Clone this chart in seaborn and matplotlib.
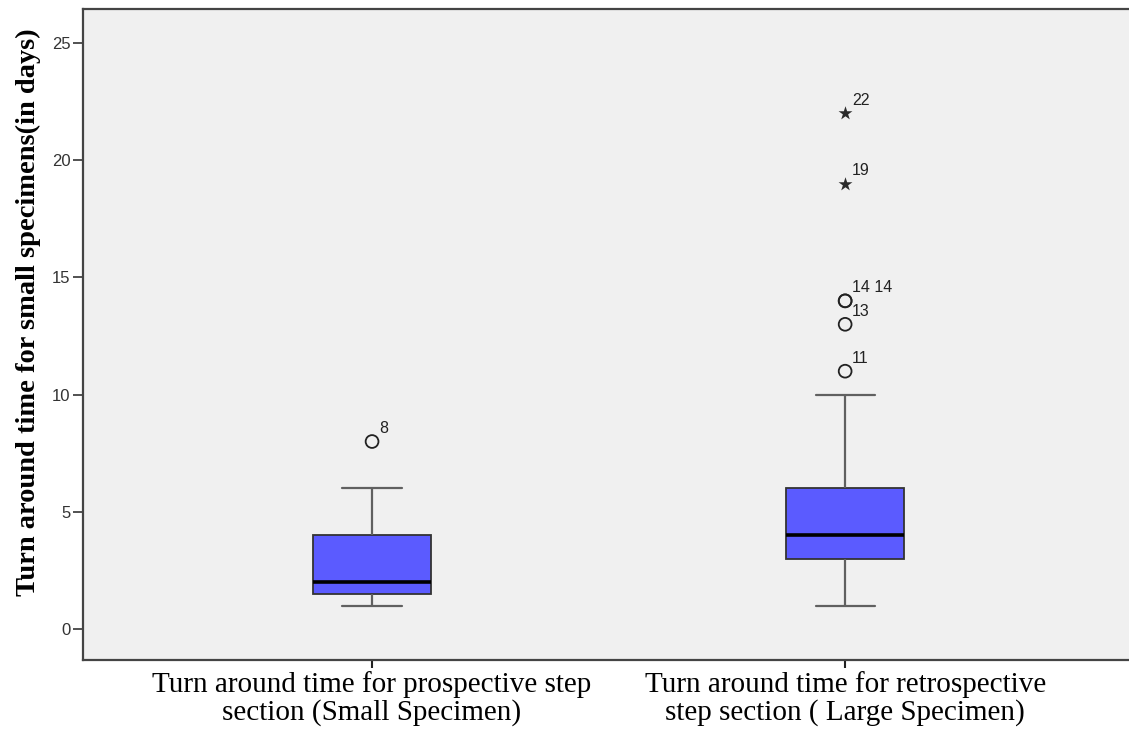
import numpy as np
import pandas as pd
import seaborn as sns
import matplotlib
matplotlib.use("Agg")
import matplotlib.pyplot as plt

# ---------------- data ----------------
categories = [
    "Turn around time for prospective step\nsection (Small Specimen)",
    "Turn around time for retrospective\nstep section ( Large Specimen)",
]
small_days = [1, 1, 1, 2, 2, 2, 3, 4, 4, 6, 8]
large_days = [1, 2, 2, 2, 3, 3, 3, 3, 3, 3, 4, 4, 4, 4, 4, 4, 4,
              5, 5, 5, 5, 6, 6, 6, 6, 8, 10, 11, 13, 14, 14, 19, 22]
small_case_labels = {8: "8"}
large_case_labels = {11: "11", 13: "13", 14: "14 14", 19: "19", 22: "22"}
y_ticks = [0, 5, 10, 15, 20, 25]
y_label = "Turn around time for small specimens(in days)"

# ---------------- build table ----------------
df = pd.DataFrame({
    "group": [categories[0]] * len(small_days) + [categories[1]] * len(large_days),
    "days": small_days + large_days,
})
case_labels = [small_case_labels, large_case_labels]

sns.set_style("white")
plt.rcParams["font.family"] = ["Liberation Sans", "DejaVu Sans"]

fig = plt.figure(figsize=(11.29, 7.29), dpi=100)
ax = fig.add_axes([83 / 1129, 69 / 729, 1046 / 1129, 651 / 729])
ax.set_facecolor("#f0f0f0")

box_fill = "#5b5bff"
sns.boxplot(
    data=df, x="group", y="days", order=categories, ax=ax,
    color=box_fill, saturation=1, width=0.25, showfliers=False,
    boxprops=dict(edgecolor="#333333", linewidth=1.3),
    medianprops=dict(color="black", linewidth=2.6),
    whiskerprops=dict(color="#606060", linewidth=1.6),
    capprops=dict(color="#606060", linewidth=1.6),
)

# outliers (1.5 IQR) as open circles, extremes (3 IQR) as stars, SPSS style
for i, cat in enumerate(categories):
    vals = np.asarray(df.loc[df["group"] == cat, "days"], dtype=float)
    q1, q3 = np.percentile(vals, [25, 75])
    iqr = q3 - q1
    outs = vals[(vals > q3 + 1.5 * iqr) | (vals < q1 - 1.5 * iqr)]
    extreme = (outs > q3 + 3 * iqr) | (outs < q1 - 3 * iqr)
    mild = outs[~extreme]
    ext = outs[extreme]
    ax.scatter(np.full(len(mild), i), mild, s=85, facecolors="none",
               edgecolors="#222222", linewidths=1.3, zorder=5)
    ax.scatter(np.full(len(ext), i), ext, s=110, marker="*",
               color="#2a2a2a", linewidths=0, zorder=5)
    for v in np.unique(outs):
        lab = case_labels[i].get(int(v))
        if lab:
            ax.annotate(lab, (i, v), xytext=(7, 13), textcoords="offset pixels",
                        ha="left", va="center", fontsize=11.5, color="#222222")

ax.set_xlim(-0.611, 1.6)
ax.set_ylim(-1.32, 26.45)
ax.set_yticks(y_ticks)
ax.set_yticklabels([str(t) for t in y_ticks])
ax.set_xlabel("")
ax.set_ylabel(y_label, family=["Liberation Serif", "DejaVu Serif"],
              fontweight="bold", fontsize=20.5, color="black")
ax.yaxis.set_label_coords(-0.040, 0.535)

for lab in ax.get_xticklabels():
    lab.set_family(["Liberation Serif", "DejaVu Serif"])
    lab.set_fontsize(21)
    lab.set_linespacing(1.05)
    lab.set_color("black")
for lab in ax.get_yticklabels():
    lab.set_fontsize(12)
    lab.set_color("#333333")

ax.tick_params(axis="y", direction="out", length=7, width=1.2, color="#333333", pad=2, left=True)
ax.tick_params(axis="x", direction="out", length=6, width=1.5, color="#222222", pad=2, bottom=True)

for side in ["left", "bottom", "top"]:
    ax.spines[side].set_visible(True)
    ax.spines[side].set_color("#444444")
    ax.spines[side].set_linewidth(1.6)
ax.spines["right"].set_visible(False)

fig.savefig("out.png", dpi=100, facecolor="white")
